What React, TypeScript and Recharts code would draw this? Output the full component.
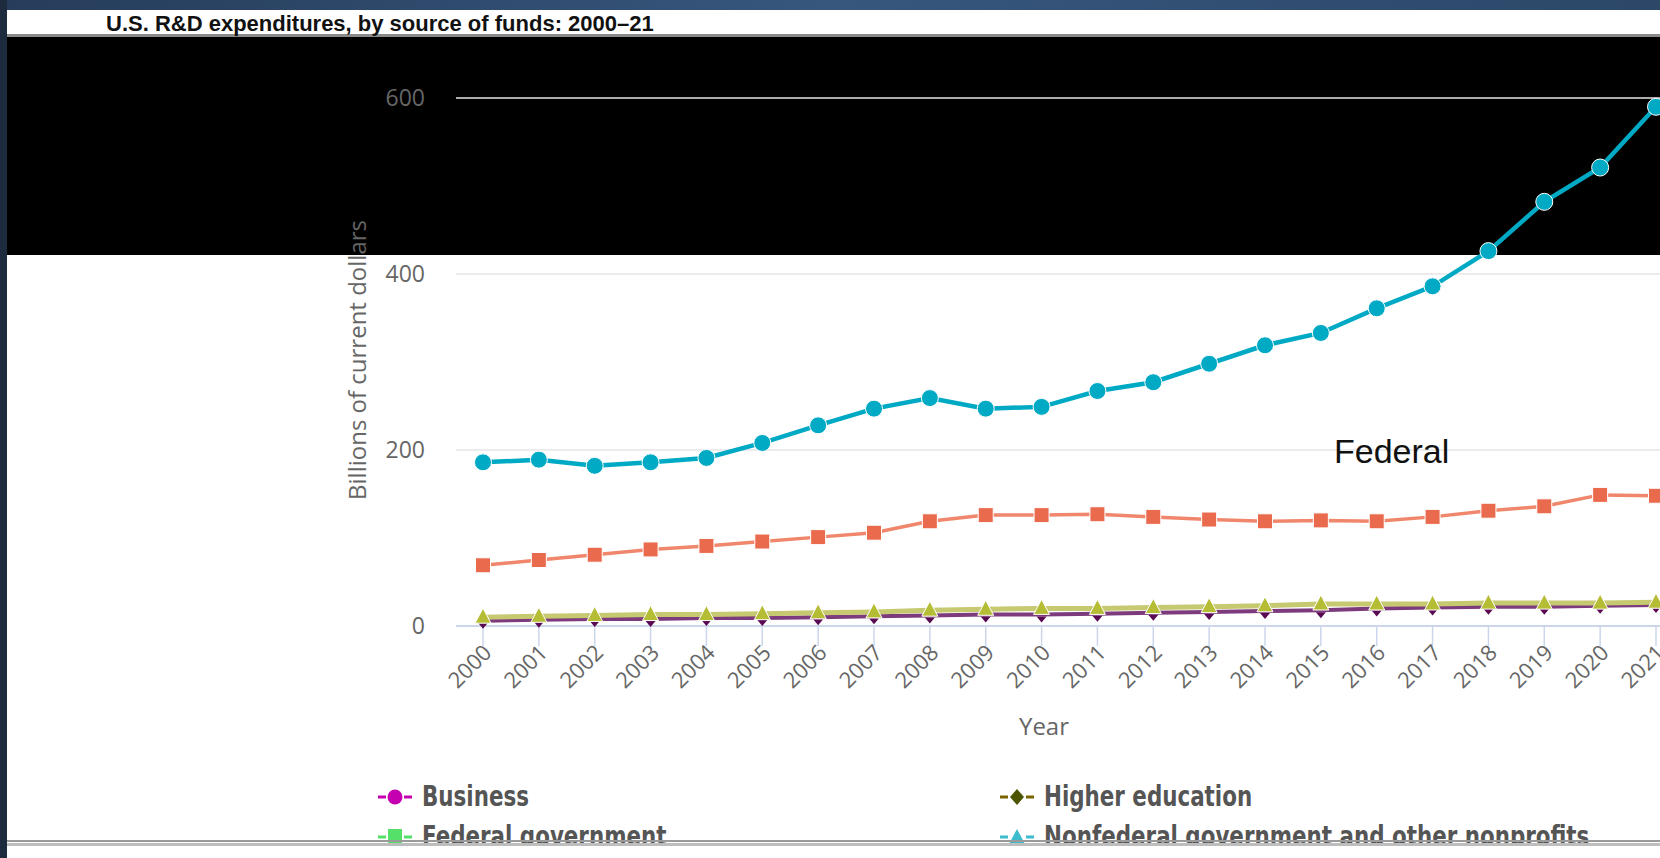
import React from "react";
import { LineChart, Line, XAxis, YAxis, CartesianGrid } from "recharts";

const years = ["2000","2001","2002","2003","2004","2005","2006","2007","2008","2009","2010","2011","2012","2013","2014","2015","2016","2017","2018","2019","2020","2021"];
const businessValues = [186,189,182,186,191,208,228,247,259,247,249,267,277,298,319,333,361,386,426,482,521,590];
const federalValues = [69,75,81,87,91,96,101,106,119,126,126,127,124,121,119,120,119,124,131,136,149,148];
const olivevalues = [10,11,12,13,13,14,15,16,18,19,20,20,21,22,23,25,25,25,26,26,26,27];
const purpleValues = [6,7,8,8,9,9,10,11,12,13,13,14,15,16,17,18,20,21,22,22,23,24];
const yTicks = [0,200,400,600];
const legendItems = [
  { name: "Business", color: "#c400b0", dash: "#c400b0", shape: "circle" },
  { name: "Higher education", color: "#4d5400", dash: "#7a6500", shape: "diamond" },
  { name: "Federal government", color: "#55e06a", dash: "#55e06a", shape: "square" },
  { name: "Nonfederal government and other nonprofits", color: "#3cbccc", dash: "#3cbccc", shape: "triangle" },
];

const data = years.map((y, i) => ({
  year: y,
  business: businessValues[i],
  federal: federalValues[i],
  olive: olivevalues[i],
  purple: purpleValues[i],
}));

const FONT = "'Open Sans', sans-serif";

const XTick = (props: any) => {
  const { x, y, payload } = props;
  return (
    <g transform={`translate(${x + 10},${y + 6})`}>
      <text x={0} y={0} textAnchor="end" transform="rotate(-45)" fontSize={22} fill="#666" fontFamily={FONT}>
        {payload.value}
      </text>
    </g>
  );
};

const SquareDot = (props: any) => {
  const { cx, cy } = props;
  if (cx == null || cy == null) return null;
  return <rect x={cx - 7.5} y={cy - 7.5} width={15} height={15} fill="#ea6a4e" stroke="#fff" strokeWidth={1} />;
};
const TriDot = (props: any) => {
  const { cx, cy } = props;
  if (cx == null || cy == null) return null;
  return <path d={`M${cx},${cy - 9} L${cx + 8},${cy + 6} L${cx - 8},${cy + 6} Z`} fill="#b5bd35" stroke="#fff" strokeWidth={1} />;
};
const DownDot = (props: any) => {
  const { cx, cy } = props;
  if (cx == null || cy == null) return null;
  return <path d={`M${cx - 5},${cy + 2} L${cx + 5},${cy + 2} L${cx},${cy + 8} Z`} fill="#5a0a52" />;
};

const LegendMarker = ({ item }: any) => {
  const c = 17, m = 9;
  let shape: any = null;
  if (item.shape === "circle") shape = <circle cx={c} cy={m} r={7.5} fill={item.color} />;
  if (item.shape === "diamond") shape = <path d={`M${c},${m - 8} L${c + 7},${m} L${c},${m + 8} L${c - 7},${m} Z`} fill={item.color} />;
  if (item.shape === "square") shape = <rect x={c - 7} y={m - 8} width={14} height={15} fill={item.color} />;
  if (item.shape === "triangle") shape = <path d={`M${c},${m - 8} L${c + 8},${m + 7} L${c - 8},${m + 7} Z`} fill={item.color} />;
  return (
    <svg width={34} height={18} style={{ display: "block" }}>
      <rect x={0} y={m - 1.5} width={8} height={3} fill={item.dash} />
      <rect x={26} y={m - 1.5} width={8} height={3} fill={item.dash} />
      {shape}
    </svg>
  );
};

export default function App() {
  const legendPos = [
    { left: 378, top: 781 },
    { left: 1000, top: 781 },
    { left: 378, top: 821 },
    { left: 1000, top: 821 },
  ];
  return (
    <div style={{ position: "fixed", left: 0, top: 0, width: 1660, height: 858, overflow: "hidden", background: "#fff" }}>
      <div style={{ position: "absolute", left: 0, top: 0, width: 1660, height: 10, background: "linear-gradient(90deg,#263c5a,#37577d,#2c4768)" }} />
      <div style={{ position: "absolute", left: 7, top: 34, width: 1653, height: 3, background: "#8a8a8a" }} />
      <div style={{ position: "absolute", left: 7, top: 37, width: 1653, height: 218, background: "#000" }} />
      <div style={{ position: "absolute", left: 106, top: 11, fontFamily: "'Liberation Sans', sans-serif", fontWeight: 700, fontSize: 22, color: "#111", whiteSpace: "nowrap" }}>
        U.S. R&amp;D expenditures, by source of funds: 2000–21
      </div>
      <div style={{ position: "absolute", left: 0, top: 0 }}>
        <LineChart width={1720} height={858} data={data} margin={{ top: 98, right: 37, bottom: 202, left: 0 }} style={{ fontFamily: FONT }}>
          <CartesianGrid vertical={false} stroke="#e6e6e6" strokeWidth={1.5} />
          <XAxis
            dataKey="year"
            interval={0}
            height={30}
            padding={{ left: 27, right: 27 }}
            tickSize={20}
            tickMargin={2}
            axisLine={{ stroke: "#ccd6eb", strokeWidth: 2 }}
            tickLine={{ stroke: "#ccd6eb", strokeWidth: 1.5 }}
            tick={<XTick />}
          />
          <YAxis
            domain={[0, 600]}
            ticks={yTicks}
            width={456}
            tickSize={0}
            tickMargin={31}
            axisLine={false}
            tickLine={false}
            tick={{ fill: "#666", fontSize: 23, fontFamily: FONT }}
          />
          <Line dataKey="business" stroke="#00a9c4" strokeWidth={4.5} isAnimationActive={false}
            dot={{ r: 8.5, fill: "#00a9c4", stroke: "#fff", strokeWidth: 1 }} />
          <Line dataKey="federal" stroke="#f0876c" strokeWidth={3.5} isAnimationActive={false} dot={<SquareDot />} />
          <Line dataKey="purple" stroke="#7d3b7d" strokeWidth={4} isAnimationActive={false} dot={<DownDot />} />
          <Line dataKey="olive" stroke="#c6c970" strokeWidth={5} isAnimationActive={false} dot={<TriDot />} />
        </LineChart>
      </div>
      <svg style={{ position: "absolute", left: 0, top: 0, pointerEvents: "none" }} width={1660} height={858}>
        <text transform="translate(366,360) rotate(-90)" textAnchor="middle" fontFamily={FONT} fontSize={24} fill="#666">
          Billions of current dollars
        </text>
        <text x={1044} y={735} textAnchor="middle" fontFamily={FONT} fontSize={24} fill="#666">Year</text>
        <text x={1334} y={463} fontFamily="'Liberation Sans', sans-serif" fontSize={34} fill="#111">Federal</text>
      </svg>
      {legendItems.map((item, i) => (
        <div key={item.name} style={{ position: "absolute", left: legendPos[i].left, top: legendPos[i].top, display: "flex", alignItems: "center", whiteSpace: "nowrap" }}>
          <LegendMarker item={item} />
          <span style={{ marginLeft: 10, display: "inline-block", transform: "scaleX(0.85)", transformOrigin: "0 50%", fontFamily: "'DejaVu Sans Condensed', 'DejaVu Sans', sans-serif", fontWeight: 700, fontSize: 28, color: "#555", lineHeight: "32px" }}>
            {item.name}
          </span>
        </div>
      ))}
      <div style={{ position: "absolute", left: 0, top: 840, width: 1660, height: 2, background: "#9a9a9a" }} />
      <div style={{ position: "absolute", left: 0, top: 843, width: 1660, height: 3, background: "#bdbdbd" }} />
      <div style={{ position: "absolute", left: 0, top: 846, width: 1660, height: 12, background: "#fff" }} />
      <div style={{ position: "absolute", left: 0, top: 0, width: 7, height: 858, background: "#1d2b3f" }} />
    </div>
  );
}
